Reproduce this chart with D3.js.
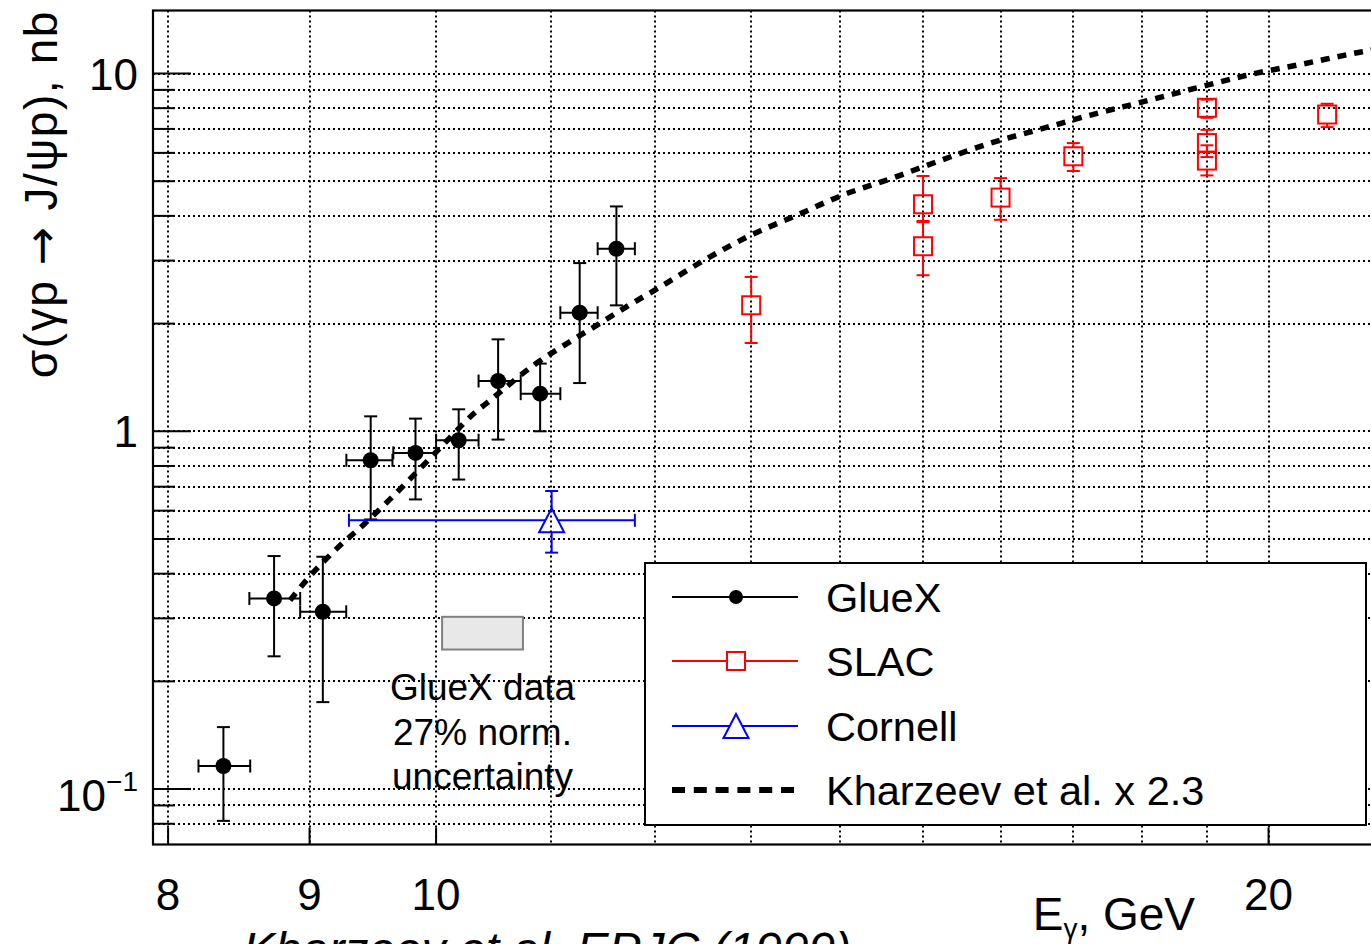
<!DOCTYPE html>
<html><head><meta charset="utf-8">
<script src="https://cdn.jsdelivr.net/npm/d3@7"></script>
<style>html,body{margin:0;padding:0;background:#fff;overflow:hidden}
text{font-family:"Liberation Sans",Arial,Helvetica,sans-serif;fill:#000}</style>
</head><body>
<svg id="chart" width="1371" height="944"></svg>
<script>
// ---- data ----
const gluexE    = [8.377, 8.738, 9.10, 9.47, 9.83, 10.19, 10.53, 10.905, 11.27, 11.62];
const gluexELo  = [8.205, 8.56, 8.93, 9.28, 9.65, 10.0, 10.36, 10.73, 11.09, 11.44];
const gluexEHi  = [8.566, 8.93, 9.279, 9.643, 10.0, 10.36, 10.73, 11.09, 11.44, 11.80];
const gluexSig  = [0.116, 0.341, 0.313, 0.830, 0.870, 0.944, 1.382, 1.274, 2.145, 3.238];
const gluexSigLo= [0.0815, 0.235, 0.175, 0.567, 0.645, 0.733, 0.948, 1.0, 1.364, 2.249];
const gluexSigHi= [0.149, 0.448, 0.446, 1.101, 1.085, 1.152, 1.807, 1.546, 2.952, 4.251];

const slacE     = [13.0, 15.0, 15.0, 16.0, 17.0, 19.0, 19.0, 19.0, 21.0];
const slacSig   = [2.25, 4.31, 3.29, 4.50, 5.87, 8.02, 6.39, 5.71, 7.68];
const slacSigLo = [1.765, 3.84, 2.73, 3.90, 5.34, 7.52, 5.84, 5.19, 7.08];
const slacSigHi = [2.70, 5.17, 3.87, 5.10, 6.39, 8.45, 6.96, 6.30, 8.23];

const cornellE = [11.01], cornellELo = [9.30], cornellEHi = [11.80];
const cornellSig = [0.564], cornellSigLo = [0.458], cornellSigHi = [0.681];

const kharzeevE   = [8.855, 9.004, 9.206, 9.418, 9.643, 9.869, 10.09, 10.32, 10.46, 10.845, 11.15, 11.43, 11.74, 12.05, 12.51, 12.99, 13.50, 14.02, 14.60, 15.22, 15.84, 16.51, 17.26, 18.05, 18.84, 19.70, 20.59, 21.58, 21.95];
const kharzeevSig = [0.337, 0.394, 0.470, 0.550, 0.656, 0.787, 0.940, 1.121, 1.22, 1.529, 1.758, 1.978, 2.249, 2.53, 3.017, 3.527, 4.012, 4.563, 5.08, 5.715, 6.364, 6.963, 7.667, 8.367, 9.12, 9.936, 10.64, 11.47, 11.75];

const normBoxE = [10.05, 10.75];
const normBoxSig = [0.2455, 0.303];
const normText = ["GlueX data", "27% norm.", "uncertainty"];

const xGrid = [8, 9, 10, 11, 12, 13, 14, 15, 16, 17, 18, 19, 20];
const xMajor = [8, 9, 10, 20];
const xMajorLabels = ["8", "9", "10", "20"];
const yMajor = [0.1, 1, 10];
const yMinor = [0.08, 0.09, 0.2, 0.3, 0.4, 0.5, 0.6, 0.7, 0.8, 0.9, 2, 3, 4, 5, 6, 7, 8, 9];
const legendLabels = ["GlueX", "SLAC", "Cornell", "Kharzeev et al. x 2.3"];

// ---- scales ----
const x = d3.scaleLog().domain([7.9, 22]).range([153, 1383]);
const y = d3.scaleLog().domain([0.07, 15]).range([844.5, 10.5]);
const X0 = 153, X1 = 1383, Y0 = 10.5, Y1 = 844.5;

const svg = d3.select("#chart");
svg.append("defs").append("clipPath").attr("id","clip")
  .append("rect").attr("x",X0).attr("y",Y0).attr("width",X1-X0).attr("height",Y1-Y0);

// grid
const grid = svg.append("g").attr("stroke","#000").attr("stroke-width",2).attr("stroke-dasharray","2,3");
grid.selectAll("line.gx").data(xGrid).join("line").attr("class","gx")
  .attr("x1",d=>Math.round(x(d))).attr("x2",d=>Math.round(x(d))).attr("y1",Y0).attr("y2",Y1);
grid.selectAll("line.gy").data(yMajor.concat(yMinor)).join("line").attr("class","gy")
  .attr("x1",X0).attr("x2",X1).attr("y1",d=>Math.round(y(d))).attr("y2",d=>Math.round(y(d)));

// normalization box and text
svg.append("rect").attr("x",x(normBoxE[0])).attr("y",y(normBoxSig[1]))
  .attr("width",x(normBoxE[1])-x(normBoxE[0])).attr("height",y(normBoxSig[0])-y(normBoxSig[1]))
  .attr("fill","#e8e8e8").attr("stroke","#808080").attr("stroke-width",2);
const tcx = (x(normBoxE[0])+x(normBoxE[1]))/2;
svg.selectAll("text.norm").data(normText).join("text").attr("class","norm")
  .attr("x",tcx).attr("y",(d,i)=>700+i*44.5).attr("text-anchor","middle")
  .attr("font-size",37).text(d=>d);

// Kharzeev curve
const line = d3.line().x(d=>x(d[0])).y(d=>y(d[1])).curve(d3.curveMonotoneX);
svg.append("path").attr("clip-path","url(#clip)")
  .datum(kharzeevE.map((e,i)=>[e,kharzeevSig[i]]))
  .attr("d",line).attr("fill","none").attr("stroke","#000")
  .attr("stroke-width",5.5).attr("stroke-dasharray","9,8");

const cap = 6.5;
function seg(g, x1,y1,x2,y2,col){ g.append("line").attr("x1",x1).attr("y1",y1).attr("x2",x2).attr("y2",y2).attr("stroke",col).attr("stroke-width",2); }

// GlueX
const gG = svg.append("g");
gluexE.forEach((e,i)=>{
  const cx=x(e), cy=y(gluexSig[i]);
  const xl=x(gluexELo[i]), xh=x(gluexEHi[i]), yl=y(gluexSigLo[i]), yh=y(gluexSigHi[i]);
  seg(gG,xl,cy,xh,cy,"#000"); seg(gG,cx,yl,cx,yh,"#000");
  seg(gG,xl,cy-cap,xl,cy+cap,"#000"); seg(gG,xh,cy-cap,xh,cy+cap,"#000");
  seg(gG,cx-cap,yl,cx+cap,yl,"#000"); seg(gG,cx-cap,yh,cx+cap,yh,"#000");
  gG.append("circle").attr("cx",cx).attr("cy",cy).attr("r",8).attr("fill","#000");
});

// SLAC
const sG = svg.append("g");
const hs = 9;
slacE.forEach((e,i)=>{
  const cx=x(e), cy=y(slacSig[i]), yl=y(slacSigLo[i]), yh=y(slacSigHi[i]);
  if (cy-hs > yh) seg(sG,cx,yh,cx,cy-hs,"#f00");
  if (yl > cy+hs) seg(sG,cx,cy+hs,cx,yl,"#f00");
  seg(sG,cx-cap,yh,cx+cap,yh,"#f00"); seg(sG,cx-cap,yl,cx+cap,yl,"#f00");
  sG.append("rect").attr("x",cx-hs).attr("y",cy-hs).attr("width",2*hs).attr("height",2*hs)
    .attr("fill","none").attr("stroke","#f00").attr("stroke-width",2);
});

// Cornell
const cG = svg.append("g");
function tri(g,cx,cy,col){ g.append("path").attr("d",`M${cx},${cy-12}L${cx+12.5},${cy+12}L${cx-12.5},${cy+12}Z`).attr("fill","none").attr("stroke",col).attr("stroke-width",2); }
cornellE.forEach((e,i)=>{
  const cx=x(e), cy=y(cornellSig[i]);
  const xl=x(cornellELo[i]), xh=x(cornellEHi[i]), yl=y(cornellSigLo[i]), yh=y(cornellSigHi[i]);
  seg(cG,xl,cy,cx-6.5,cy,"#00f"); seg(cG,cx+6.5,cy,xh,cy,"#00f");
  seg(cG,cx,yh,cx,cy-12,"#00f"); seg(cG,cx,cy+12,cx,yl,"#00f");
  seg(cG,xl,cy-cap,xl,cy+cap,"#00f"); seg(cG,xh,cy-cap,xh,cy+cap,"#00f");
  seg(cG,cx-cap,yl,cx+cap,yl,"#00f"); seg(cG,cx-cap,yh,cx+cap,yh,"#00f");
  tri(cG,cx,cy,"#00f");
});

// frame & ticks
svg.append("rect").attr("x",X0).attr("y",Y0).attr("width",X1-X0).attr("height",Y1-Y0)
  .attr("fill","none").attr("stroke","#000").attr("stroke-width",2.2);
const tk = svg.append("g").attr("stroke","#000").attr("stroke-width",2);
tk.selectAll("line.ym").data(yMajor).join("line").attr("x1",X0).attr("x2",X0+38).attr("y1",d=>y(d)).attr("y2",d=>y(d));
tk.selectAll("line.yn").data(yMinor).join("line").attr("x1",X0).attr("x2",X0+22).attr("y1",d=>y(d)).attr("y2",d=>y(d));
tk.selectAll("line.xm").data(xMajor).join("line").attr("x1",d=>x(d)).attr("x2",d=>x(d)).attr("y1",Y1).attr("y2",Y1-17);

// tick labels
svg.selectAll("text.xl").data(xMajor).join("text").attr("class","xl")
  .attr("x",d=>x(d)).attr("y",910).attr("text-anchor","middle").attr("font-size",44)
  .text((d,i)=>xMajorLabels[i]);
const yl = svg.append("g");
yl.append("text").attr("x",138).attr("y",y(10)+16).attr("text-anchor","end").attr("font-size",44).text("10");
yl.append("text").attr("x",138).attr("y",y(1)+16).attr("text-anchor","end").attr("font-size",44).text("1");
const tm = yl.append("text").attr("x",138).attr("y",y(0.1)+22).attr("text-anchor","end").attr("font-size",44);
tm.append("tspan").text("10");
tm.append("tspan").attr("font-size",28).attr("dy",-20).text("\u22121");

// axis titles
const yt = svg.append("text").attr("transform","translate(57,10) rotate(-90)").attr("text-anchor","end")
  .attr("font-size",46).attr("letter-spacing",1.6);
yt.append("tspan").text("\u03c3(\u03b3p ");
yt.append("tspan").style("font-family","'DejaVu Sans'").text("\u2192");
yt.append("tspan").text(" J/\u03c8p), nb");
const xt = svg.append("text").attr("x",1195).attr("y",930).attr("text-anchor","end").attr("font-size",46);
xt.append("tspan").text("E");
xt.append("tspan").attr("font-size",28).attr("dy",8).text("\u03b3");
xt.append("tspan").attr("dy",-8).text(", GeV");

svg.append("text").attr("x",243).attr("y",966).attr("font-size",48).attr("font-style","italic")
  .text("Kharzeev et al. EPJC (1999)");

// legend
const lg = svg.append("g");
lg.append("rect").attr("x",645).attr("y",563).attr("width",721).attr("height",262)
  .attr("fill","#fff").attr("stroke","#000").attr("stroke-width",2);
const rowY = [597, 661, 726, 790];
seg(lg,672,rowY[0],798,rowY[0],"#000");
lg.append("circle").attr("cx",736).attr("cy",rowY[0]).attr("r",7).attr("fill","#000");
seg(lg,672,rowY[1],798,rowY[1],"#f00");
lg.append("rect").attr("x",736-9).attr("y",rowY[1]-9).attr("width",18).attr("height",18).attr("fill","#fff").attr("stroke","#f00").attr("stroke-width",2);
seg(lg,672,rowY[2],798,rowY[2],"#00f");
lg.append("path").attr("d",`M736,${rowY[2]-12}L748.5,${rowY[2]+12}L723.5,${rowY[2]+12}Z`).attr("fill","#fff").attr("stroke","#00f").attr("stroke-width",2);
lg.append("line").attr("x1",672).attr("x2",794).attr("y1",rowY[3]).attr("y2",rowY[3])
  .attr("stroke","#000").attr("stroke-width",6).attr("stroke-dasharray","13,8.8");
lg.selectAll("text.lt").data(legendLabels).join("text").attr("class","lt")
  .attr("x",826).attr("y",(d,i)=>rowY[i]+15).attr("font-size",41.5).text(d=>d);
</script>
</body></html>
